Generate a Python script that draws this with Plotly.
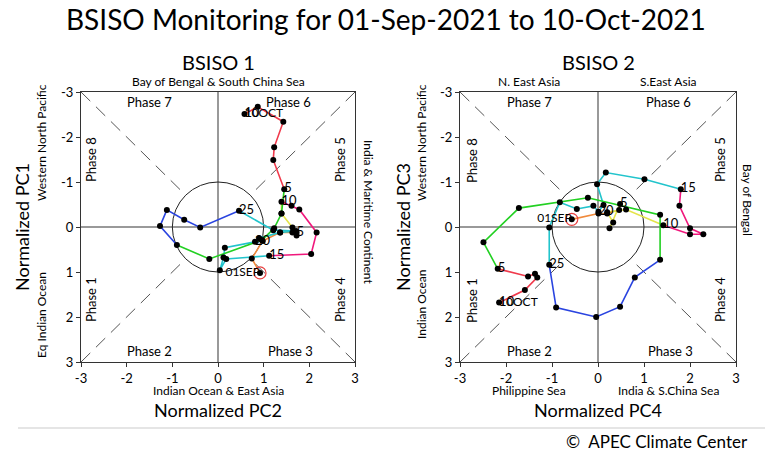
import plotly.graph_objects as go

# the page body adds an 8px margin, so the figure is sized to fit the window exactly
PAGE_MARGIN = 8
W, H = 773 - PAGE_MARGIN, 453 - PAGE_MARGIN

# ---------------- data ----------------
DAY_LABELS = ["01SEP"] + [""] * 3 + ["5"] + [""] * 4 + ["10"] + [""] * 4 + ["15"] + [""] * 4 + ["20"] + [""] * 4 + ["25"] + [""] * 9 + ["5"] + [""] * 4 + ["10"]
END_LABEL = "10OCT"

# BSISO1: x = PC2, y = PC1  (01 Sep ... 10 Oct)
pc2 = [0.92, 0.74, 0.98, 1.36, 1.72, 1.72, 1.63, 1.63, 1.39, 1.39,
       1.61, 1.78, 2.16, 2.04, 1.12, 0.18, 0.04, 0.12, 0.15, 0.81,
       0.90, 1.36, 1.71, 1.21, 0.46, -0.39, -0.74, -1.12, -1.27, -0.90,
       -0.19, 0.96, 1.23, 1.39, 1.45, 1.21, 1.23, 1.43, 0.87, 0.58]
pc1 = [1.02, 0.70, 0.31, 0.12, 0.12, 0.19, 0.12, 0.01, -0.30, -0.56,
       -0.47, -0.39, 0.12, 0.60, 0.64, 0.71, 0.96, 0.68, 0.46, 0.33,
       0.25, 0.12, 0.09, 0.07, -0.36, 0.01, -0.16, -0.38, -0.02, 0.40,
       0.71, 0.29, 0.03, -0.30, -0.84, -1.49, -1.77, -2.34, -2.67, -2.51]

# BSISO2: x = PC4, y = PC3
pc4 = [-0.57, 0.01, 0.20, 0.46, 0.48, 0.25, 0.33, 0.20, 0.61, 1.42,
       2.00, 2.29, 2.00, 1.77, 1.80, 1.01, 0.17, -0.02, 0.12, 0.01,
       -0.10, -0.46, -0.83, -1.06, -1.06, -0.91, -0.04, 0.48, 0.80, 1.35,
       1.35, -0.22, -1.72, -2.49, -2.18, -1.52, -1.37, -1.32, -1.59, -2.15]
pc3 = [-0.17, -0.30, -0.30, -0.38, -0.51, 0.03, -0.10, -0.33, -0.39, -0.04,
       0.16, 0.16, 0.03, -0.47, -0.84, -1.06, -1.21, -0.95, -0.49, -0.34,
       -0.47, -0.40, -0.55, 0.01, 0.84, 1.79, 2.00, 1.77, 1.12, 0.73,
       -0.27, -0.65, -0.42, 0.34, 0.93, 1.10, 1.04, 1.12, 1.40, 1.68]

TICKS = [-3, -2, -1, 0, 1, 2, 3]
TICK_TEXT = ["-3", "-2", "-1", "0", "1", "2", "3"]

# segment breaks (every 5 days) and colours
SEG_BREAKS = [0, 4, 9, 14, 19, 24, 29, 34, 39]
SEG_COLORS = ["#F08A3C", "#E4E44A", "#F0187C", "#22C4CC", "#22C4CC",
              "#2A44E0", "#22D022", "#F03A4C"]

FONT = "Lato"

fig = go.Figure()

def px(x):
    return (x - PAGE_MARGIN) / W

def py(y):
    return 1 - (y - PAGE_MARGIN) / H

panels = [
    dict(xa="x", ya="y", xs=pc2, ys=pc1, dom=[px(81), px(355)]),
    dict(xa="x2", ya="y2", xs=pc4, ys=pc3, dom=[px(460), px(736)]),
]

shapes = []
for p in panels:
    xs, ys = p["xs"], p["ys"]
    shapes.append(dict(type="line", xref=p["xa"], yref=p["ya"], x0=-3, x1=3, y0=0, y1=0,
                       line=dict(color="#777777", width=1.5), layer="below"))
    shapes.append(dict(type="line", xref=p["xa"], yref=p["ya"], x0=0, x1=0, y0=-3, y1=3,
                       line=dict(color="#777777", width=1.5), layer="below"))
    r = 0.7071
    for sx, sy in [(-1, -1), (1, 1), (-1, 1), (1, -1)]:
        shapes.append(dict(type="line", xref=p["xa"], yref=p["ya"],
                           x0=3 * sx, y0=3 * sy, x1=r * sx, y1=r * sy,
                           line=dict(color="#555555", width=1, dash="13px,8px"), layer="below"))
    shapes.append(dict(type="circle", xref=p["xa"], yref=p["ya"], x0=-1, x1=1, y0=-1, y1=1,
                       line=dict(color="#222222", width=1), layer="below"))

    for k in range(len(SEG_BREAKS) - 1):
        a, b = SEG_BREAKS[k], SEG_BREAKS[k + 1]
        fig.add_trace(go.Scatter(x=xs[a:b + 1], y=ys[a:b + 1], mode="lines",
                                 line=dict(color=SEG_COLORS[k], width=1.6),
                                 xaxis=p["xa"], yaxis=p["ya"], showlegend=False, hoverinfo="skip"))
    fig.add_trace(go.Scatter(x=xs, y=ys, mode="markers",
                             marker=dict(color="black", size=6),
                             xaxis=p["xa"], yaxis=p["ya"], showlegend=False))
    fig.add_trace(go.Scatter(x=[xs[0]], y=[ys[0]], mode="markers",
                             marker=dict(color="rgba(0,0,0,0)", size=12,
                                         line=dict(color="#E84040", width=1.2)),
                             xaxis=p["xa"], yaxis=p["ya"], showlegend=False))
    lx = [xs[i] for i in range(1, len(xs)) if DAY_LABELS[i]]
    ly = [ys[i] for i in range(1, len(ys)) if DAY_LABELS[i]]
    lt = [DAY_LABELS[i] for i in range(1, len(xs)) if DAY_LABELS[i]]
    fig.add_trace(go.Scatter(x=lx, y=ly, mode="text", text=lt, textposition="middle right",
                             textfont=dict(family=FONT, size=13, color="black"),
                             xaxis=p["xa"], yaxis=p["ya"], showlegend=False))
    fig.add_trace(go.Scatter(x=[xs[0]], y=[ys[0]], mode="text", text=[DAY_LABELS[0]],
                             textposition="middle left",
                             textfont=dict(family=FONT, size=12, color="black"),
                             xaxis=p["xa"], yaxis=p["ya"], showlegend=False))
    fig.add_trace(go.Scatter(x=[xs[-1]], y=[ys[-1]], mode="text", text=[END_LABEL],
                             textposition="middle right",
                             textfont=dict(family=FONT, size=12, color="black"),
                             xaxis=p["xa"], yaxis=p["ya"], showlegend=False))

axis_common = dict(range=[-3, 3], tickvals=TICKS, ticktext=TICK_TEXT, showgrid=False,
                   zeroline=False, showline=True, mirror=True, linecolor="#333333",
                   linewidth=1.2, ticks="outside", ticklen=4, tickcolor="#333333",
                   tickfont=dict(family=FONT, size=13, color="black"), automargin=False)
ydom = [py(362), py(92)]

ann = []
def A(text, x, y, size, angle=0):
    ann.append(dict(text=text, x=px(x), y=py(y), xref="paper", yref="paper",
                    showarrow=False, xanchor="center", yanchor="middle", textangle=angle,
                    font=dict(family=FONT, size=size, color="black")))

A("BSISO Monitoring for 01-Sep-2021 to 10-Oct-2021", 386, 19, 28)
A("BSISO 1", 218, 62, 20)
A("BSISO 2", 598, 62, 20)
A("Bay of Bengal &amp; South China Sea", 218, 81, 12)
A("N. East Asia", 529, 81, 12)
A("S.East Asia", 668, 81, 12)
A("Indian Ocean &amp; East Asia", 218, 390, 12)
A("Philippine Sea", 529, 390, 12)
A("India &amp; S.China Sea", 668, 390, 12)
A("Normalized PC2", 218, 410, 18)
A("Normalized PC4", 598, 410, 18)
A("Normalized PC1", 22, 227, 18, -90)
A("Normalized PC3", 403, 227, 18, -90)
A("Western North Pacific", 41, 143, 12, -90)
A("Western North Pacific", 421, 143, 12, -90)
A("Eq Indian Ocean", 41, 315, 12, -90)
A("Indian Ocean", 421, 305, 12, -90)
A("India &amp; Maritime Continent", 368, 212, 12, 90)
A("Bay of Bengal", 748, 200, 12, 90)
for ox in [0, 380]:
    A("Phase 7", 149 + ox, 102, 13)
    A("Phase 6", 288 + ox, 102, 13)
    A("Phase 2", 149 + ox, 351, 13)
    A("Phase 3", 290 + ox, 351, 13)
for (x8, x5) in [(91, 340), (472, 720)]:
    A("Phase 8", x8, 160, 13, -90)
    A("Phase 1", x8, 300, 13, -90)
    A("Phase 5", x5, 160, 13, -90)
    A("Phase 4", x5, 300, 13, -90)
A("©  APEC Climate Center", 657, 441, 17)

shapes.append(dict(type="line", xref="paper", yref="paper", x0=px(18), x1=1, y0=py(428), y1=py(428),
                   line=dict(color="#DDDDDD", width=1.5)))

fig.update_layout(
    width=W, height=H, margin=dict(l=0, r=0, t=0, b=0, pad=0, autoexpand=False),
    paper_bgcolor="white", plot_bgcolor="white",
    xaxis=dict(domain=panels[0]["dom"], anchor="y", **axis_common),
    yaxis=dict(domain=ydom, anchor="x", autorange=False, **{**axis_common, "range": [3, -3]}),
    xaxis2=dict(domain=panels[1]["dom"], anchor="y2", **axis_common),
    yaxis2=dict(domain=ydom, anchor="x2", autorange=False, **{**axis_common, "range": [3, -3]}),
    shapes=shapes, annotations=ann, showlegend=False,
)

fig.write_html("out.html")
